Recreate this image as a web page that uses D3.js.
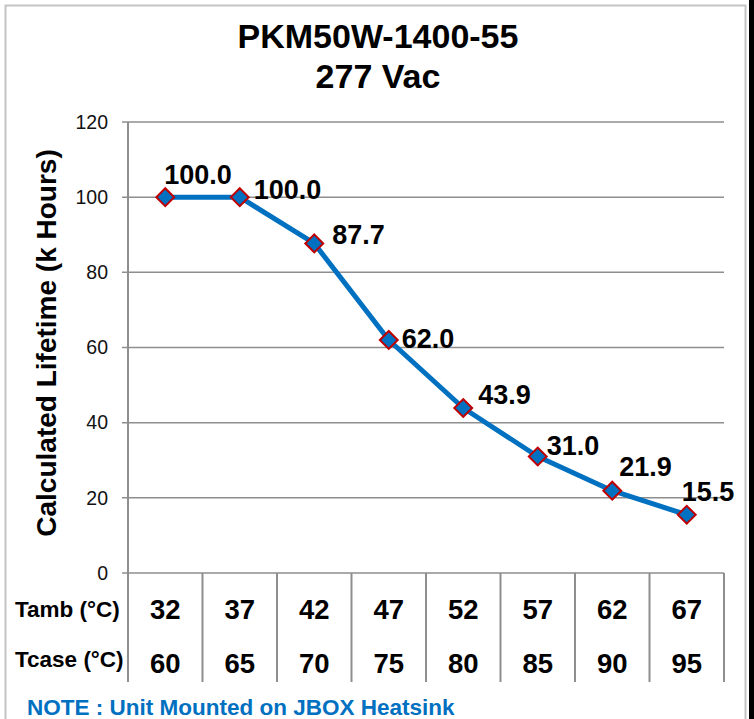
<!DOCTYPE html>
<html>
<head>
<meta charset="utf-8">
<script src="https://cdn.jsdelivr.net/npm/d3@7"></script>
<style>
html,body{margin:0;padding:0;background:#fff;}
svg{display:block;}
text{font-family:"Liberation Sans",Arial,Helvetica,sans-serif;}
</style>
</head>
<body>
<svg id="chart" width="754" height="719"></svg>
<script>
// ---- data ----
const categories = ["32","37","42","47","52","57","62","67"];     // Tamb (°C)
const tcase = ["60","65","70","75","80","85","90","95"];           // Tcase (°C)
const lifetime = [100.0, 100.0, 87.7, 62.0, 43.9, 31.0, 21.9, 15.5];
const yTicks = [0, 20, 40, 60, 80, 100, 120];
const titleLines = ["PKM50W-1400-55", "277 Vac"];
const yTitle = "Calculated Lifetime (k Hours)";
const rowLabels = ["Tamb (°C)", "Tcase (°C)"];
const note = "NOTE : Unit Mounted on JBOX Heatsink";

// label placement offsets (layout only)
const labelDx = [-1, 14, 18, 13, 15, 9, 7, -5];
const labelDy = [-13, 2, 1, 8, -4, -1, -15, -14];

const svg = d3.select("#chart");
const W = 754, H = 719;
const plot = {left: 128, right: 724, top: 122, bottom: 573};

// outer frame
svg.append("rect").attr("x", 5.5).attr("y", 5.5).attr("width", 740).attr("height", 730)
  .attr("fill", "#fff").attr("stroke", "#c4c4c4").attr("stroke-width", 2);
svg.append("rect").attr("x", 749).attr("y", 0).attr("width", 5).attr("height", H).attr("fill", "#000");

const x = d3.scaleBand().domain(d3.range(categories.length)).range([plot.left, plot.right]);
const y = d3.scaleLinear().domain([0, 120]).range([plot.bottom, plot.top]);

// gridlines
svg.append("g").selectAll("line").data(yTicks).join("line")
  .attr("x1", plot.left - 6).attr("x2", plot.right)
  .attr("y1", d => y(d)).attr("y2", d => y(d))
  .attr("stroke", "#8e8e8e").attr("stroke-width", 1.5);

// y axis
const yAxis = d3.axisLeft(y).tickValues(yTicks).tickSize(0).tickPadding(20);
const ga = svg.append("g").attr("transform", `translate(${plot.left},0)`).call(yAxis);
ga.select(".domain").remove();
ga.selectAll("text").attr("font-size", 19.5).attr("fill", "#111")
  .attr("font-family", "'Liberation Sans',Arial,sans-serif");
svg.append("line").attr("x1", plot.left).attr("x2", plot.left)
  .attr("y1", plot.top).attr("y2", 682).attr("stroke", "#8e8e8e").attr("stroke-width", 2);

// table vertical lines
const bounds = d3.range(categories.length + 1).map(i => i < categories.length ? x(i) : plot.right);
svg.append("g").selectAll("line").data(bounds.slice(1)).join("line")
  .attr("x1", d => d).attr("x2", d => d).attr("y1", plot.bottom).attr("y2", 682)
  .attr("stroke", "#8e8e8e").attr("stroke-width", 2);

// table text
const rowY = [619, 673];
[categories, tcase].forEach((row, r) => {
  svg.append("g").selectAll("text").data(row).join("text")
    .attr("x", (d, i) => x(i) + x.bandwidth() / 2).attr("y", rowY[r])
    .attr("text-anchor", "middle").attr("font-size", 27.5).attr("font-weight", "bold")
    .attr("fill", "#000").text(d => d);
  svg.append("text").attr("x", 15).attr("y", rowY[r] - 2 - r * 4)
    .attr("font-size", 22.5).attr("font-weight", "bold").attr("fill", "#000").text(rowLabels[r]);
});

// line
const line = d3.line().x((d, i) => x(i) + x.bandwidth() / 2).y(d => y(d)).curve(d3.curveLinear);
svg.append("path").datum(lifetime).attr("d", line)
  .attr("fill", "none").attr("stroke", "#0070c0").attr("stroke-width", 5)
  .attr("stroke-linejoin", "round");

// markers
const sym = d3.symbol().type(d3.symbolSquare).size(160);
svg.append("g").selectAll("path").data(lifetime).join("path")
  .attr("d", sym)
  .attr("transform", (d, i) => `translate(${x(i) + x.bandwidth() / 2},${y(d)}) rotate(45)`)
  .attr("fill", "#0070c0").attr("stroke", "#c00000").attr("stroke-width", 2);

// data labels
svg.append("g").selectAll("text").data(lifetime).join("text")
  .attr("x", (d, i) => x(i) + x.bandwidth() / 2 + labelDx[i])
  .attr("y", (d, i) => y(d) + labelDy[i])
  .attr("font-size", 27).attr("font-weight", "bold").attr("fill", "#000")
  .text(d => d.toFixed(1));

// titles
titleLines.forEach((t, i) => {
  svg.append("text").attr("x", 378).attr("y", 48 + i * 40).attr("text-anchor", "middle")
    .attr("font-size", 34).attr("font-weight", "bold").attr("fill", "#000").text(t);
});

// y title
svg.append("text").attr("transform", `translate(56,343) rotate(-90)`)
  .attr("text-anchor", "middle").attr("font-size", 28).attr("font-weight", "bold")
  .attr("fill", "#000").text(yTitle);

// note
svg.append("text").attr("x", 27).attr("y", 715).attr("font-size", 22.5).attr("font-weight", "bold")
  .attr("fill", "#0070c0").text(note);
</script>
</body>
</html>
